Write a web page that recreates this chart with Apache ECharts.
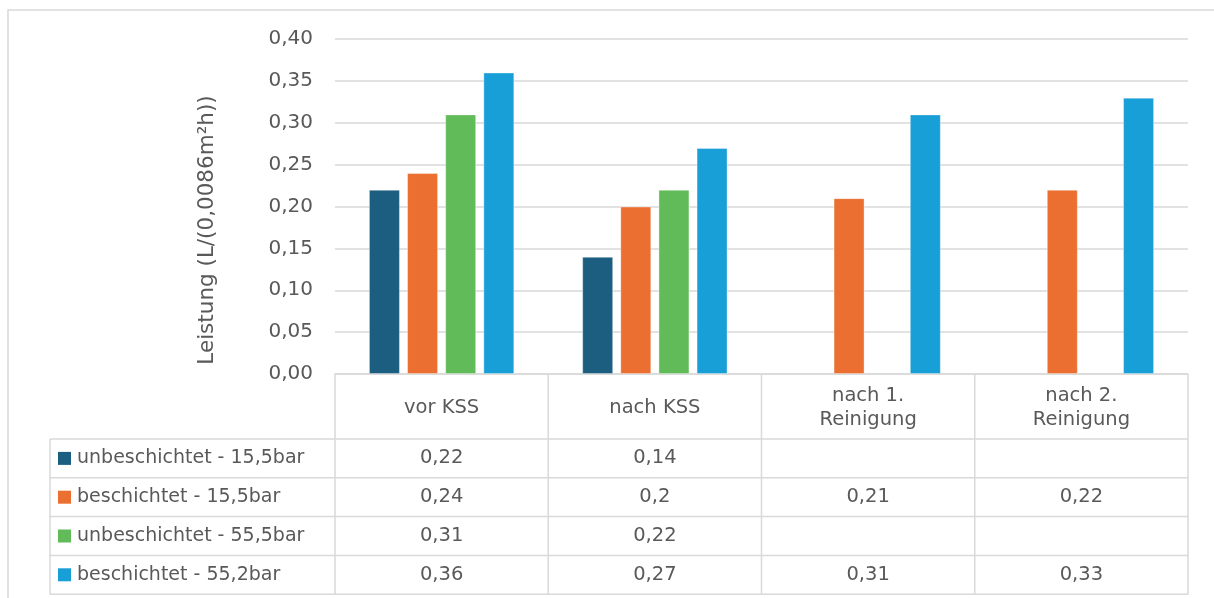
<!DOCTYPE html>
<html>
<head>
<meta charset="utf-8">
<script src="https://cdn.jsdelivr.net/npm/echarts@6/dist/echarts.min.js"></script>
<style>
  html, body { margin: 0; padding: 0; background: #fff; }
  #chart { width: 1214px; height: 598px; }
</style>
</head>
<body>
<div id="chart"></div>
<script>
// Stages of the test run (table header text, with line breaks)
const categories = ['vor KSS', 'nach KSS', 'nach 1.\nReinigung', 'nach 2.\nReinigung'];

// Performance per membrane variant, L/(0,0086 m²h); null = not measured
const seriesNames = [
  'unbeschichtet - 15,5bar',
  'beschichtet - 15,5bar',
  'unbeschichtet - 55,5bar',
  'beschichtet - 55,2bar'
];
const unbeschichtet155 = [0.22, 0.14, null, null];
const beschichtet155   = [0.24, 0.20, 0.21, 0.22];
const unbeschichtet555 = [0.31, 0.22, null, null];
const beschichtet552   = [0.36, 0.27, 0.31, 0.33];

const yTicks = { min: 0, max: 0.40, interval: 0.05 };
const yTitle = 'Leistung (L/(0,0086m²h))';
const colors = ['#1b5e80', '#ea6f30', '#61bb58', '#199fd7'];

const FONT = 'DejaVu Sans';
const TEXT = '#595959';
const LINE = '#d9d9d9';

const seriesData = [unbeschichtet155, beschichtet155, unbeschichtet555, beschichtet552];
const fmt = v => (v === null || v === undefined) ? '' : String(v).replace('.', ',');

const chart = echarts.init(document.getElementById('chart'), null, { renderer: 'canvas' });

chart.setOption({
  animation: false,
  color: colors,
  grid: { left: 335, right: 26, top: 39, bottom: 224, containLabel: false },
  xAxis: {
    type: 'category',
    data: categories,
    axisLine: { show: true, lineStyle: { color: LINE, width: 1.5 } },
    axisTick: { show: false },
    axisLabel: { show: false },
    splitLine: { show: false }
  },
  yAxis: {
    type: 'value',
    min: yTicks.min,
    max: yTicks.max,
    interval: yTicks.interval,
    axisLine: { show: false },
    axisTick: { show: false },
    axisLabel: {
      color: TEXT, fontFamily: FONT, fontSize: 20, margin: 22,
      formatter: v => v.toFixed(2).replace('.', ',')
    },
    splitLine: { lineStyle: { color: LINE, width: 1.5 } }
  },
  series: seriesData.map((d, i) => ({
    name: seriesNames[i],
    type: 'bar',
    data: d,
    barWidth: 31,
    barGap: '23%',
    itemStyle: { color: colors[i], borderColor: 'rgba(255,255,255,0.35)', borderWidth: 1 }
  }))
});

// Axis title and the data table underneath the plot, aligned with the category bands
function buildOverlay() {
  const c0 = chart.convertToPixel({ xAxisIndex: 0 }, 0);
  const c1 = chart.convertToPixel({ xAxisIndex: 0 }, 1);
  const band = c1 - c0;
  const xLeft = c0 - band / 2;
  const xRight = xLeft + band * categories.length;
  const yTop = chart.convertToPixel({ yAxisIndex: 0 }, 0);
  const rowTop = yTop + 65;
  const rowH = 38.8;
  const legendLeft = 50;
  const yBottom = rowTop + rowH * seriesNames.length;

  const els = [];
  const line = (x1, y1, x2, y2) => els.push({
    type: 'line', silent: true,
    shape: { x1, y1, x2, y2 },
    style: { stroke: LINE, lineWidth: 1.5 }
  });
  const text = (x, y, s, align, size) => els.push({
    type: 'text', silent: true,
    style: {
      x, y, text: s, fill: TEXT, font: (size || 19.5) + 'px "' + FONT + '"',
      textAlign: align || 'center', textVerticalAlign: 'middle', lineHeight: 24
    }
  });

  // outer chart frame
  els.push({
    type: 'rect', silent: true,
    shape: { x: 8, y: 10, width: 1230, height: 620 },
    style: { fill: 'none', stroke: LINE, lineWidth: 1.5 }
  });

  // y-axis title, rotated
  els.push({
    type: 'text', silent: true,
    x: 207, y: 230, rotation: Math.PI / 2,
    style: {
      text: yTitle, fill: TEXT, font: '21.5px "' + FONT + '"',
      textAlign: 'center', textVerticalAlign: 'middle'
    }
  });

  // horizontal rules
  for (let r = 0; r <= seriesNames.length; r++) {
    line(legendLeft, rowTop + r * rowH, xRight, rowTop + r * rowH);
  }
  // vertical rules
  line(legendLeft, rowTop, legendLeft, yBottom);
  for (let k = 0; k <= categories.length; k++) {
    line(xLeft + k * band, yTop, xLeft + k * band, yBottom);
  }

  // header
  categories.forEach((c, k) => text(xLeft + (k + 0.5) * band, (yTop + rowTop) / 2 + 1, c));

  // rows
  seriesNames.forEach((name, r) => {
    const cy = rowTop + (r + 0.5) * rowH;
    els.push({
      type: 'rect', silent: true,
      shape: { x: 58, y: cy - 6.5, width: 13, height: 13 },
      style: { fill: colors[r] }
    });
    text(77, cy, name, 'left', 19);
    seriesData[r].forEach((v, k) => text(xLeft + (k + 0.5) * band, cy, fmt(v)));
  });

  chart.setOption({ graphic: { elements: els } });
}
buildOverlay();
</script>
</body>
</html>
